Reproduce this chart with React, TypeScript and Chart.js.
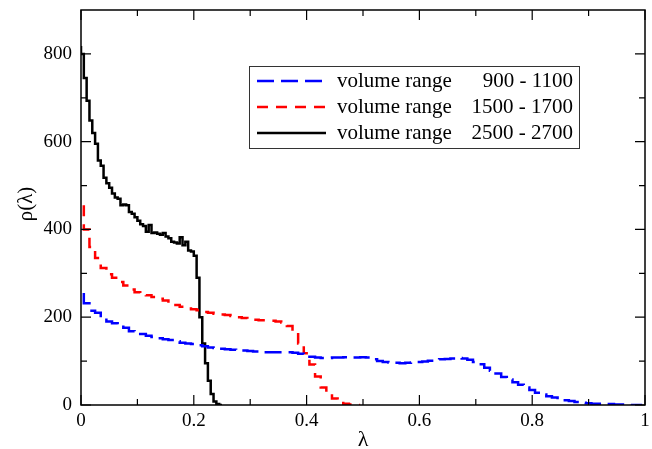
import { useEffect, useRef } from "react";
import { Chart, registerables } from "chart.js";

Chart.register(...registerables);

// Bin start positions (lambda) and histogram heights rho(lambda)
const blackX = [
  0, 0.005, 0.01, 0.015, 0.02, 0.025, 0.03, 0.035, 0.04, 0.045,
  0.05, 0.055, 0.06, 0.065, 0.07, 0.075, 0.08, 0.085, 0.09, 0.095,
  0.1, 0.105, 0.11, 0.115, 0.12, 0.125, 0.13, 0.135, 0.14, 0.145,
  0.15, 0.155, 0.16, 0.165, 0.17, 0.175, 0.18, 0.185, 0.19, 0.195,
  0.2, 0.205, 0.21, 0.215, 0.22, 0.225, 0.23, 0.235, 0.24, 0.245,
  0.25,
];
const blackY = [
  818, 800, 745, 693, 648, 620, 595, 557, 545, 518,
  505, 495, 482, 473, 470, 455, 457, 455, 440, 436,
  428, 420, 412, 408, 395, 410, 392, 393, 390, 388,
  392, 384, 380, 372, 370, 368, 382, 364, 372, 352,
  350, 340, 290, 200, 140, 95, 55, 25, 8, 2,
  0,
];

const redX = [
  0.005, 0.015, 0.025, 0.035, 0.045, 0.055, 0.065, 0.075, 0.085, 0.095,
  0.105, 0.115, 0.125, 0.135, 0.145, 0.155, 0.165, 0.175, 0.185, 0.195,
  0.205, 0.215, 0.225, 0.235, 0.245, 0.255, 0.265, 0.275, 0.285, 0.295,
  0.305, 0.315, 0.325, 0.335, 0.345, 0.355, 0.365, 0.375, 0.385, 0.395,
  0.405, 0.415, 0.425, 0.435, 0.445, 0.455, 0.465, 0.475, 0.485, 0.495,
];
const redY = [
  455, 400, 360, 335, 312, 298, 290, 280, 272, 263,
  257, 255, 250, 246, 242, 238, 233, 228, 224, 220,
  218, 216, 212, 210, 208, 206, 205, 203, 200, 198,
  196, 194, 193, 193, 192, 190, 188, 180, 165, 140,
  118, 92, 65, 40, 25, 15, 8, 3, 1, 0,
];

const blueX = [
  0.005, 0.015, 0.025, 0.035, 0.045, 0.055, 0.065, 0.075, 0.085, 0.095,
  0.105, 0.115, 0.125, 0.135, 0.145, 0.155, 0.165, 0.175, 0.185, 0.195,
  0.205, 0.215, 0.225, 0.235, 0.245, 0.255, 0.265, 0.275, 0.285, 0.295,
  0.305, 0.315, 0.325, 0.335, 0.345, 0.355, 0.365, 0.375, 0.385, 0.395,
  0.405, 0.415, 0.425, 0.435, 0.445, 0.455, 0.465, 0.475, 0.485, 0.495,
  0.505, 0.515, 0.525, 0.535, 0.545, 0.555, 0.565, 0.575, 0.585, 0.595,
  0.605, 0.615, 0.625, 0.635, 0.645, 0.655, 0.665, 0.675, 0.685, 0.695,
  0.705, 0.715, 0.725, 0.735, 0.745, 0.755, 0.765, 0.775, 0.785, 0.795,
  0.805, 0.815, 0.825, 0.835, 0.845, 0.855, 0.865, 0.875, 0.885, 0.895,
  0.905, 0.915, 0.925, 0.935, 0.945, 0.955, 0.965, 0.975, 0.985, 0.995,
];
const blueY = [
  255, 232, 215, 210, 200, 190, 186, 182, 176, 168,
  165, 162, 158, 155, 152, 150, 148, 145, 142, 140,
  139, 136, 134, 131, 130, 128, 127, 126, 125, 124,
  123, 122, 121, 120, 120, 120, 120, 120, 119, 117,
  114, 110, 108, 107, 107, 108, 108, 109, 108, 108,
  109, 108, 104, 100, 98, 97, 96, 95, 96, 97,
  98, 99, 101, 102, 104, 105, 106, 107, 106, 103,
  98, 93, 85, 78, 72, 64, 58, 52, 46, 40,
  34, 28, 24, 20, 17, 13, 11, 9, 7, 5,
  4, 3, 3, 2, 2, 1, 1, 1, 0, 0,
];

const seriesNames = ["volume range", "volume range", "volume range"];
const seriesRanges = ["900 - 1100", "1500 - 1700", "2500 - 2700"];
const seriesColors = ["#0000ff", "#ff0000", "#000000"];
const seriesDashes: number[][] = [[17, 7], [11, 8], []];

const xMajorTicks = [0, 0.2, 0.4, 0.6, 0.8, 1];
const xMinorTicks = [0.1, 0.3, 0.5, 0.7, 0.9];
const yMajorTicks = [0, 200, 400, 600, 800];
const yMinorTicks = [100, 300, 500, 700];

const FONT = "'Liberation Serif', 'DejaVu Serif', serif";

const toPoints = (xs: number[], ys: number[]) => xs.map((x, i) => ({ x, y: ys[i] }));

const decorPlugin = {
  id: "decor",
  afterDatasetsDraw(chart: any) {
    const { ctx, chartArea: a, scales } = chart;
    const xs = scales.x;
    const ys = scales.y;
    ctx.save();
    // frame
    ctx.strokeStyle = "#000";
    ctx.lineWidth = 1.5;
    ctx.setLineDash([]);
    ctx.strokeRect(a.left, a.top, a.right - a.left, a.bottom - a.top);
    // inward ticks
    ctx.lineWidth = 1.2;
    const drawX = (v: number, len: number) => {
      const p = xs.getPixelForValue(v);
      ctx.beginPath();
      ctx.moveTo(p, a.bottom);
      ctx.lineTo(p, a.bottom - len);
      ctx.moveTo(p, a.top);
      ctx.lineTo(p, a.top + len);
      ctx.stroke();
    };
    const drawY = (v: number, len: number) => {
      const p = ys.getPixelForValue(v);
      ctx.beginPath();
      ctx.moveTo(a.left, p);
      ctx.lineTo(a.left + len, p);
      ctx.moveTo(a.right, p);
      ctx.lineTo(a.right - len, p);
      ctx.stroke();
    };
    xMajorTicks.forEach((v) => drawX(v, 10));
    xMinorTicks.forEach((v) => drawX(v, 6));
    yMajorTicks.forEach((v) => drawY(v, 10));
    yMinorTicks.forEach((v) => drawY(v, 6));

    // axis titles
    ctx.fillStyle = "#000";
    ctx.font = `22px ${FONT}`;
    ctx.textAlign = "center";
    ctx.textBaseline = "alphabetic";
    ctx.fillText("λ", (a.left + a.right) / 2, 446);
    ctx.save();
    ctx.translate(26, 204);
    ctx.rotate(-Math.PI / 2);
    ctx.font = `21px ${FONT}`;
    ctx.textBaseline = "middle";
    ctx.fillText("ρ(λ)", 0, 0);
    ctx.restore();

    // legend
    const bx = 249, by = 66, bw = 330, bh = 82;
    ctx.fillStyle = "#fff";
    ctx.fillRect(bx, by, bw, bh);
    ctx.strokeStyle = "#333";
    ctx.lineWidth = 1;
    ctx.strokeRect(bx + 0.5, by + 0.5, bw, bh);
    const rowY = [81, 107, 133];
    ctx.font = `21px ${FONT}`;
    ctx.textBaseline = "middle";
    for (let i = 0; i < 3; i++) {
      ctx.strokeStyle = seriesColors[i];
      ctx.lineWidth = 2.5;
      ctx.setLineDash(seriesDashes[i]);
      ctx.beginPath();
      ctx.moveTo(257, rowY[i]);
      ctx.lineTo(326, rowY[i]);
      ctx.stroke();
      ctx.setLineDash([]);
      ctx.fillStyle = "#000";
      ctx.textAlign = "left";
      ctx.fillText(seriesNames[i], 337, rowY[i]);
      ctx.textAlign = "right";
      ctx.fillText(seriesRanges[i], 573, rowY[i]);
    }
    ctx.restore();
  },
};

export default function App() {
  const ref = useRef<HTMLCanvasElement>(null);
  useEffect(() => {
    document.body.style.margin = "0";
    const canvas = ref.current;
    if (!canvas) return;
    const chart = new Chart(canvas, {
      type: "line",
      data: {
        datasets: [
          {
            label: seriesNames[0] + " " + seriesRanges[0],
            data: toPoints(blueX, blueY),
            borderColor: seriesColors[0],
            borderDash: seriesDashes[0],
            borderWidth: 2.5,
            stepped: "after",
            pointRadius: 0,
            fill: false,
          },
          {
            label: seriesNames[1] + " " + seriesRanges[1],
            data: toPoints(redX, redY),
            borderColor: seriesColors[1],
            borderDash: seriesDashes[1],
            borderWidth: 2.5,
            stepped: "after",
            pointRadius: 0,
            fill: false,
          },
          {
            label: seriesNames[2] + " " + seriesRanges[2],
            data: toPoints(blackX, blackY),
            borderColor: seriesColors[2],
            borderWidth: 2.5,
            stepped: "after",
            pointRadius: 0,
            fill: false,
          },
        ],
      },
      options: {
        responsive: false,
        animation: false,
        layout: { padding: { left: 0, right: 7, top: 10, bottom: 0 } },
        plugins: {
          legend: { display: false },
          tooltip: { enabled: false },
        },
        scales: {
          x: {
            type: "linear",
            min: 0,
            max: 1,
            grid: { display: false, drawTicks: false },
            border: { display: false },
            ticks: {
              color: "#000",
              font: { family: FONT, size: 19 },
              padding: 5,
              maxRotation: 0,
              autoSkip: false,
              callback: (v: any) => String(Number(v)),
            },
            afterBuildTicks: (s: any) => {
              s.ticks = xMajorTicks.map((v) => ({ value: v }));
            },
            afterFit: (s: any) => {
              s.height = 44;
              s.paddingLeft = 0;
              s.paddingRight = 0;
              s.paddingTop = 0;
              s.paddingBottom = 0;
            },
          },
          y: {
            type: "linear",
            min: 0,
            max: 900,
            grid: { display: false, drawTicks: false },
            border: { display: false },
            ticks: {
              color: "#000",
              font: { family: FONT, size: 19 },
              padding: 9,
              autoSkip: false,
              callback: (v: any) => String(Number(v)),
            },
            afterBuildTicks: (s: any) => {
              s.ticks = yMajorTicks.map((v) => ({ value: v }));
            },
            afterFit: (s: any) => {
              s.width = 81;
              s.paddingLeft = 0;
              s.paddingRight = 0;
              s.paddingTop = 0;
              s.paddingBottom = 0;
            },
          },
        },
      },
      plugins: [decorPlugin],
    });
    return () => chart.destroy();
  }, []);
  return (
    <div style={{ width: 652, height: 449, position: "relative", background: "#fff" }}>
      <canvas ref={ref} width={652} height={449} style={{ width: 652, height: 449, display: "block" }} />
    </div>
  );
}
